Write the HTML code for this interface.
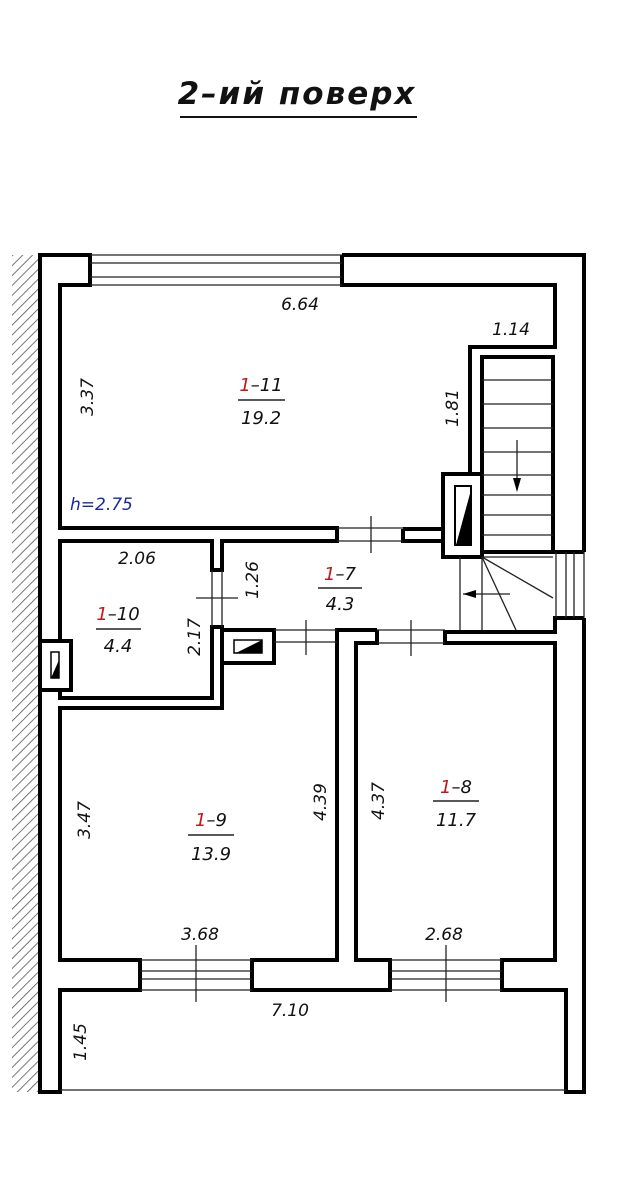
<!DOCTYPE html>
<html><head><meta charset="utf-8"><style>
html,body{margin:0;padding:0;background:#fff;}
svg{display:block;}
text{font-family:"DejaVu Sans","Liberation Sans",sans-serif;font-style:italic;fill:#111;}
</style></head><body>
<svg width="629" height="1200" viewBox="0 0 629 1200" xmlns="http://www.w3.org/2000/svg">
<defs>
<pattern id="h" width="7" height="7" patternUnits="userSpaceOnUse" patternTransform="rotate(45)">
<line x1="0" y1="0" x2="0" y2="7" stroke="#555" stroke-width="1.6"/>
</pattern>
</defs>
<!-- title -->
<text x="297" y="104" font-size="31" text-anchor="middle" font-weight="bold" letter-spacing="2">2–ий поверх</text>
<line x1="180" y1="117" x2="417" y2="117" stroke="#111" stroke-width="2"/>

<!-- hatching -->
<rect x="12" y="255" width="28" height="837" fill="url(#h)"/>

<g fill="none" stroke="#000" stroke-width="4" stroke-linejoin="miter">
<!-- outer left -->
<line x1="40" y1="253" x2="40" y2="1094"/>
<!-- top wall left piece -->
<polyline points="40,255 90,255 90,285 60,285 60,528 337,528 337,541 222,541 222,570 212,570 212,541 60,541 60,641"/>
<!-- left chimney -->
<rect x="40" y="641" width="31" height="49" fill="#fff"/>
<polyline points="60,690 60,698 212,698 212,627 222,627 222,708 60,708 60,960 140,960 140,990 60,990 60,1092 40,1092"/>
<!-- corridor chimney -->
<rect x="222" y="630" width="52" height="33" fill="#fff"/>
<!-- top wall right piece, stair -->
<polyline points="342,255 584,255 584,552"/>
<polyline points="342,255 342,285 555,285 555,347 470,347 470,474"/>
<rect x="443" y="474" width="39" height="83" fill="#fff"/>
<polyline points="403,529 443,529 443,541 403,541 403,529"/>
<rect x="482" y="357" width="71" height="195" fill="none"/>
<line x1="553" y1="552" x2="584" y2="552"/>
<!-- right lower -->
<polyline points="584,618 584,1092 566,1092 566,990 502,990 502,960 555,960 555,643 445,643 445,632 555,632 555,618 584,618"/>
<!-- 1-9 right / 1-8 left -->
<polyline points="377,630 337,630 337,960 252,960 252,990 390,990 390,960 356,960 356,643 377,643 377,630"/>
</g>

<!-- flues -->
<polygon points="51,652 59,652 59,678 51,678" fill="#fff" stroke="#000" stroke-width="1.5"/>
<polygon points="59,660 59,678 51,678" fill="#000"/>
<polygon points="455,486 471,486 471,545 455,545" fill="#fff" stroke="#000" stroke-width="2"/>
<polygon points="471,490 471,545 456,545" fill="#000"/>
<polygon points="234,640 262,640 262,653 234,653" fill="#fff" stroke="#000" stroke-width="1.5"/>
<polygon points="262,640 262,653 236,653" fill="#000"/>

<g stroke="#222" stroke-width="1.3" fill="none">
<!-- top window -->
<line x1="90" y1="255" x2="342" y2="255"/><line x1="90" y1="263" x2="342" y2="263"/>
<line x1="90" y1="277" x2="342" y2="277"/><line x1="90" y1="285" x2="342" y2="285"/>
<!-- right window -->
<line x1="556" y1="552" x2="556" y2="618"/><line x1="566" y1="552" x2="566" y2="618"/>
<line x1="574" y1="552" x2="574" y2="618"/><line x1="584" y1="552" x2="584" y2="618"/>
<!-- bottom windows -->
<line x1="140" y1="960" x2="252" y2="960"/><line x1="140" y1="971" x2="252" y2="971"/>
<line x1="140" y1="979" x2="252" y2="979"/><line x1="140" y1="990" x2="252" y2="990"/>
<line x1="390" y1="960" x2="502" y2="960"/><line x1="390" y1="971" x2="502" y2="971"/>
<line x1="390" y1="979" x2="502" y2="979"/><line x1="390" y1="990" x2="502" y2="990"/>
<line x1="196" y1="945" x2="196" y2="1002"/><line x1="446" y1="945" x2="446" y2="1002"/>
<!-- balcony bottom -->
<line x1="60" y1="1090" x2="566" y2="1090"/>
<!-- doors -->
<line x1="337" y1="528" x2="403" y2="528"/><line x1="337" y1="541" x2="403" y2="541"/>
<line x1="371" y1="516" x2="371" y2="553"/>
<line x1="212" y1="570" x2="212" y2="627"/><line x1="222" y1="570" x2="222" y2="627"/>
<line x1="196" y1="598" x2="238" y2="598"/>
<line x1="274" y1="630" x2="337" y2="630"/><line x1="274" y1="642" x2="337" y2="642"/>
<line x1="306" y1="620" x2="306" y2="655"/>
<line x1="377" y1="630" x2="445" y2="630"/><line x1="377" y1="643" x2="445" y2="643"/>
<line x1="411" y1="620" x2="411" y2="656"/>
<!-- stairs -->
<line x1="482" y1="380" x2="553" y2="380"/><line x1="482" y1="404" x2="553" y2="404"/>
<line x1="482" y1="428" x2="553" y2="428"/><line x1="482" y1="452" x2="553" y2="452"/>
<line x1="482" y1="475" x2="553" y2="475"/><line x1="482" y1="495" x2="553" y2="495"/>
<line x1="482" y1="515" x2="553" y2="515"/><line x1="482" y1="535" x2="553" y2="535"/>
<line x1="482" y1="557" x2="553" y2="557"/>
<line x1="482" y1="557" x2="553" y2="598"/><line x1="482" y1="557" x2="516" y2="630"/>
<line x1="460" y1="557" x2="460" y2="630"/><line x1="482" y1="557" x2="482" y2="630"/>
<line x1="517" y1="440" x2="517" y2="490"/>
<line x1="463" y1="594" x2="510" y2="594"/>
</g>
<polygon points="513,478 521,478 517,492" fill="#000"/>
<polygon points="463,594 476,590 476,598" fill="#000"/>

<!-- dimensions -->
<g font-size="17">
<text x="300" y="310" text-anchor="middle">6.64</text>
<text x="511" y="335" text-anchor="middle">1.14</text>
<text transform="translate(93,397) rotate(-90)" text-anchor="middle">3.37</text>
<text transform="translate(458,408) rotate(-90)" text-anchor="middle">1.81</text>
<text x="137" y="564" text-anchor="middle">2.06</text>
<text transform="translate(258,580) rotate(-90)" text-anchor="middle">1.26</text>
<text transform="translate(200,637) rotate(-90)" text-anchor="middle">2.17</text>
<text transform="translate(90,820) rotate(-90)" text-anchor="middle">3.47</text>
<text transform="translate(326,802) rotate(-90)" text-anchor="middle">4.39</text>
<text transform="translate(384,801) rotate(-90)" text-anchor="middle">4.37</text>
<text x="200" y="940" text-anchor="middle">3.68</text>
<text x="444" y="940" text-anchor="middle">2.68</text>
<text x="290" y="1016" text-anchor="middle">7.10</text>
<text transform="translate(86,1042) rotate(-90)" text-anchor="middle">1.45</text>
<text x="70" y="510" fill="#1a2a9a" style="fill:#1a2a9a">h=2.75</text>
</g>

<!-- room labels -->
<g font-size="18" text-anchor="middle">
<text x="261" y="391"><tspan style="fill:#c0181b">1</tspan>–11</text>
<line x1="238" y1="400" x2="285" y2="400" stroke="#222" stroke-width="1.5"/>
<text x="261" y="424">19.2</text>
<text x="340" y="580"><tspan style="fill:#c0181b">1</tspan>–7</text>
<line x1="318" y1="588" x2="362" y2="588" stroke="#222" stroke-width="1.5"/>
<text x="340" y="610">4.3</text>
<text x="118" y="620"><tspan style="fill:#c0181b">1</tspan>–10</text>
<line x1="96" y1="629" x2="141" y2="629" stroke="#222" stroke-width="1.5"/>
<text x="118" y="652">4.4</text>
<text x="211" y="826"><tspan style="fill:#c0181b">1</tspan>–9</text>
<line x1="188" y1="835" x2="234" y2="835" stroke="#222" stroke-width="1.5"/>
<text x="211" y="860">13.9</text>
<text x="456" y="793"><tspan style="fill:#c0181b">1</tspan>–8</text>
<line x1="433" y1="801" x2="479" y2="801" stroke="#222" stroke-width="1.5"/>
<text x="456" y="826">11.7</text>
</g>
</svg>
</body></html>
